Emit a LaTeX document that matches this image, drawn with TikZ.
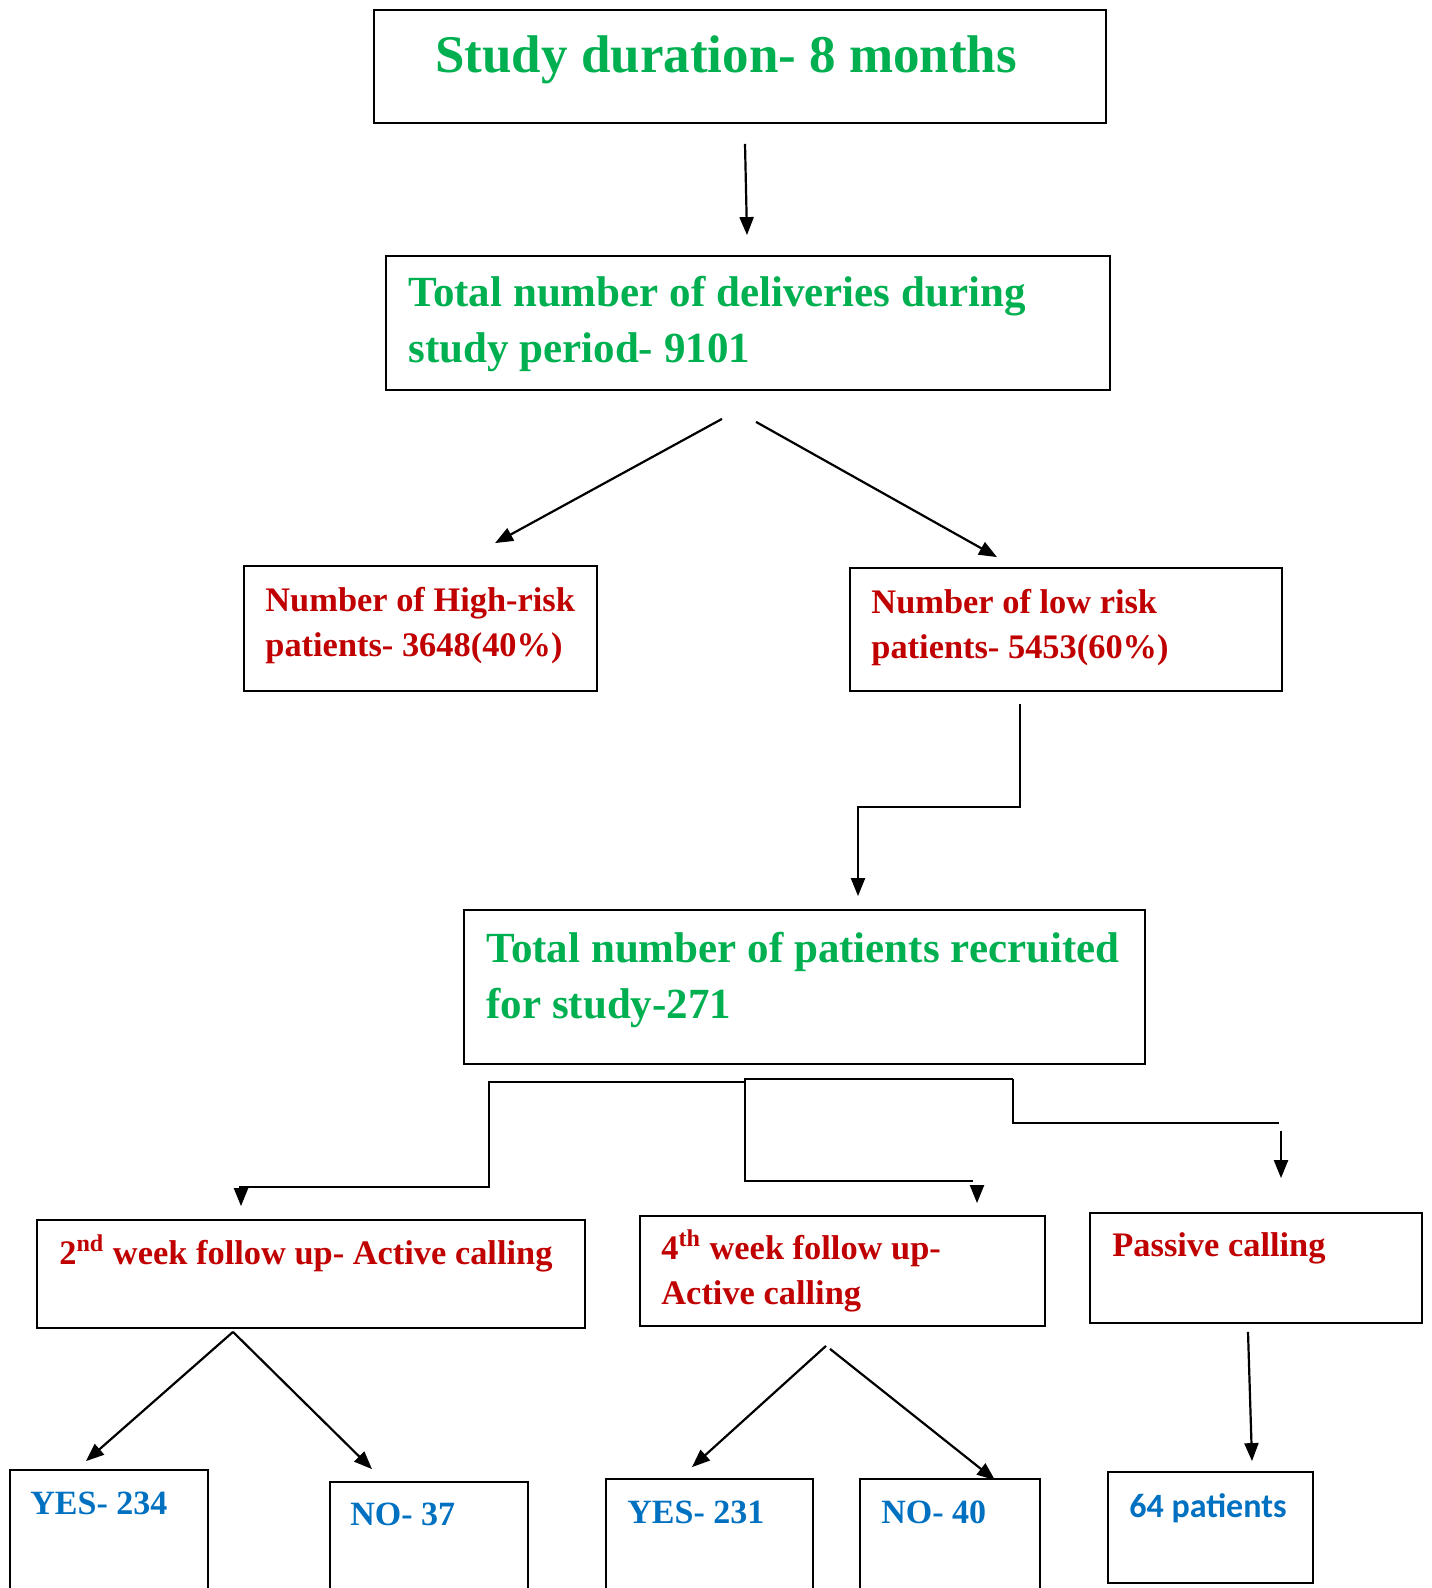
\documentclass[tikz,border=0pt]{standalone}
\usepackage{fontspec}
\setmainfont{Liberation Serif}
\newfontfamily\calfont{Carlito}
\usetikzlibrary{arrows.meta,positioning,fit,calc}
\definecolor{hdgreen}{HTML}{00B050}
\definecolor{hdred}{HTML}{C00000}
\definecolor{hdblue}{HTML}{0070C0}

\begin{document}
\begin{tikzpicture}[
  x=0.5pt, y=-0.5pt,
  >={Triangle[length=9pt,width=7pt]},
  box/.style={draw, line width=0.9pt, inner sep=0pt},
  txt/.style={anchor=base west, inner sep=0pt, align=left},
  ttl/.style={txt, text=hdgreen, font=\bfseries\fontsize{26.5}{32}\selectfont},
  gtxt/.style={txt, text=hdgreen, font=\bfseries\fontsize{21.5}{28}\selectfont},
  rtxt/.style={txt, text=hdred, font=\bfseries\fontsize{17.2}{22.5}\selectfont},
  btxt/.style={txt, text=hdblue, font=\bfseries\fontsize{17}{20}\selectfont},
  flow/.style={line width=1.1pt},
  arr/.style={flow, ->},
]
\clip (0,0) rectangle (1431,1588);

% ---- boxes ---------------------------------------------------------------
\node[box, fit={(374,10) (1106,123)}] (top) {};
\node[box, fit={(386,256) (1110,390)}] (deliv) {};
\node[box, fit={(244,566) (597,691)}] (high) {};
\node[box, fit={(850,568) (1282,691)}] (low) {};
\node[box, fit={(464,910) (1145,1064)}] (recr) {};
\node[box, fit={(37,1220) (585,1328)}] (wk2) {};
\node[box, fit={(640,1216) (1045,1326)}] (wk4) {};
\node[box, fit={(1090,1213) (1422,1323)}] (pass) {};
\node[box, fit={(10,1470) (208,1620)}] (yes2) {};
\node[box, fit={(330,1482) (528,1620)}] (no2) {};
\node[box, fit={(606,1479) (813,1620)}] (yes4) {};
\node[box, fit={(860,1479) (1040,1620)}] (no4) {};
\node[box, fit={(1108,1472) (1313,1583)}] (pat) {};

% ---- texts (two-line nodes sit on the baseline of their last line) -------
\node[ttl] (top-t) at (435,73) {Study duration- 8 months};
\node[gtxt] (deliv-t) at (408,363) {Total number of deliveries during\\study period- 9101};
\node[rtxt] (high-t) at (265,656) {Number of High-risk\\patients- 3648(40\%)};
\node[rtxt] (low-t) at (871,658) {Number of low risk\\patients- 5453(60\%)};
\node[gtxt] (recr-t) at (486,1018) {Total number of patients recruited\\for study-271};
\node[rtxt] (wk2-t) at (59,1264) {2\textsuperscript{nd} week follow up- Active calling};
\node[rtxt] (wk4-t) at (661,1304) {4\textsuperscript{th} week follow up-\\Active calling};
\node[rtxt] (pass-t) at (1112,1256) {Passive calling};
\node[btxt] (yes2-t) at (30,1514) {YES- 234};
\node[btxt] (no2-t) at (350,1525) {NO- 37};
\node[btxt] (yes4-t) at (627,1523) {YES- 231};
\node[btxt] (no4-t) at (881,1523) {NO- 40};
\node[btxt, font=\calfont\bfseries\fontsize{17}{20}\selectfont] (pat-t) at (1129,1517) {64 patients};

% ---- arrows --------------------------------------------------------------
\draw[arr] ($(top.south)+(5,20)$) -- ($(deliv.north)+(-1,-20)$);
\draw[arr] ($(deliv.south)+(-26,28)$) -- ($(high.north)+(74.5,-22)$);
\draw[arr] ($(deliv.south)+(8,31)$) -- ($(low.north)+(-69,-10)$);
\draw[arr] ($(low.south)+(-46,12)$) -- ++(0,103) -| ($(recr.north)+(53.5,-13)$);

% three branches out of the recruited box
\draw[flow] ($(recr.south)+(-59.5,17)$) -| ($(wk2.north)+(178,-32)$) -- ($(wk2.north)+(-72,-32)$);
\draw[arr] ($(wk2.north)+(-70,-32)$) -- ($(wk2.north)+(-70,-13)$);
\draw[flow] ($(recr.south)+(208.5,14)$) -| ($(wk4.north)+(-97.5,-34)$) -- ($(wk4.north)+(130.5,-34)$);
\draw[arr] ($(wk4.north)+(134.5,-29)$) -- ($(wk4.north)+(134.5,-12)$);
\draw[flow] ($(recr.south)+(208.5,14)$) |- ($(pass.north)+(23,-89)$);
\draw[arr] ($(pass.north)+(25,-81)$) -- ($(pass.north)+(25,-34)$);

\draw[arr] ($(wk2.south)+(-78,3)$) -- ($(yes2.north)+(-23,-8)$);
\draw[arr] ($(wk2.south)+(-78,3)$) -- ($(no2.north)+(-57,-12)$);
\draw[arr] ($(wk4.south)+(-16.5,19)$) -- ($(yes4.north)+(-17.5,-11)$);
\draw[arr] ($(wk4.south)+(-12.5,22)$) -- ($(no4.north)+(45,2)$);
\draw[arr] ($(pass.south)+(-8,8)$) -- ($(pat.north)+(41.5,-10)$);
\end{tikzpicture}
\end{document}
